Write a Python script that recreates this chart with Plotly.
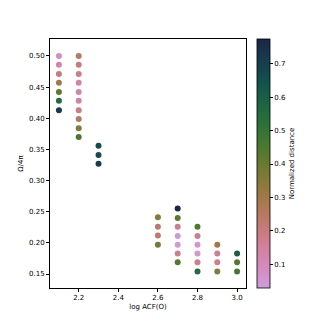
import numpy as np
import plotly.graph_objects as go

# ── data ────────────────────────────────────────────────
log_acf = [2.1] * 7 + [2.2] * 10 + [2.3] * 3 + [2.6] * 4 + [2.7] * 7 + [2.8] * 6 + [2.9] * 4 + [3.0] * 3
omega = [0.500, 0.486, 0.471, 0.457, 0.442, 0.428, 0.413,
         0.500, 0.486, 0.471, 0.457, 0.442, 0.428, 0.413, 0.399, 0.384, 0.370,
         0.356, 0.341, 0.327,
         0.241, 0.226, 0.212, 0.197,
         0.255, 0.240, 0.226, 0.211, 0.197, 0.183, 0.169,
         0.226, 0.211, 0.197, 0.183, 0.169, 0.154,
         0.197, 0.183, 0.169, 0.154,
         0.183, 0.169, 0.154]
norm_dist = [0.08, 0.13, 0.20, 0.30, 0.42, 0.55, 0.72,
             0.25, 0.20, 0.18, 0.13, 0.13, 0.14, 0.19, 0.25, 0.35, 0.45,
             0.66, 0.66, 0.71,
             0.35, 0.23, 0.23, 0.37,
             0.77, 0.42, 0.17, 0.04, 0.04, 0.17, 0.43,
             0.45, 0.17, 0.05, 0.05, 0.17, 0.55,
             0.30, 0.17, 0.17, 0.35,
             0.60, 0.44, 0.46]


def cubehelix(light=0.70, dark=0.15, n=41, s=0.5, r=-1.5, h=1.0):
    # matplotlib's cubehelix, taken from light (low values) to dark
    out = []
    for t in np.linspace(0, 1, n):
        x = light + (dark - light) * t
        a = h * x * (1 - x) / 2
        phi = 2 * np.pi * (s / 3 + r * x)
        R = x + a * (-0.14861 * np.cos(phi) + 1.78277 * np.sin(phi))
        G = x + a * (-0.29227 * np.cos(phi) - 0.90649 * np.sin(phi))
        B = x + a * (1.97294 * np.cos(phi))
        rgb = [int(round(255 * min(max(c, 0), 1))) for c in (R, G, B)]
        out.append([float(t), f"rgb({rgb[0]},{rgb[1]},{rgb[2]})"])
    return out


font = dict(family="DejaVu Sans", size=7, color="black")

fig = go.Figure(go.Scatter(
    x=log_acf, y=omega, mode="markers",
    marker=dict(size=6, color=norm_dist, colorscale=cubehelix(),
                cmin=0.029, cmax=0.774,
                colorbar=dict(
                    x=1.0585, xanchor="left", xpad=0,
                    y=0.5, yanchor="middle", len=1, ypad=0,
                    thickness=13, outlinecolor="black", outlinewidth=0.8,
                    tickvals=[0.1, 0.2, 0.3, 0.4, 0.5, 0.6, 0.7],
                    ticks="outside", ticklen=3, tickcolor="black",
                    tickfont=font,
                    title=dict(text="Normalized distance", side="right",
                               font=font))),
    showlegend=False))

axis = dict(showline=True, linecolor="black", linewidth=0.8, mirror=True,
            showgrid=False, zeroline=False, ticks="outside", ticklen=3,
            tickcolor="black", tickfont=font)

# the page body adds an 8px margin, so the figure is 8px smaller
fig.update_layout(
    width=322, height=322,
    margin=dict(l=33, r=84, t=31, b=42),
    paper_bgcolor="white", plot_bgcolor="white",
    font=font,
    xaxis=dict(axis, range=[2.055, 3.045], tickvals=[2.2, 2.4, 2.6, 2.8, 3.0],
               tickformat=".1f",
               title=dict(text="log ACF(O)", font=font, standoff=2)),
    yaxis=dict(axis, range=[0.1276, 0.5272],
               tickvals=[0.15, 0.20, 0.25, 0.30, 0.35, 0.40, 0.45, 0.50],
               tickformat=".2f",
               title=dict(text="Ω/4π", font=font, standoff=4)),
)

fig.write_html("out.html")
